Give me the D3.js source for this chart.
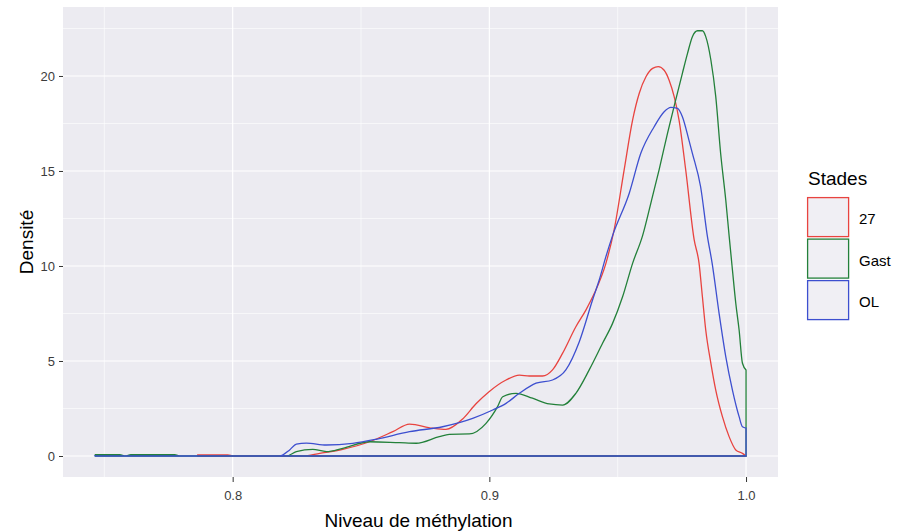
<!DOCTYPE html>
<html>
<head>
<meta charset="utf-8">
<script src="https://cdn.jsdelivr.net/npm/d3@7"></script>
<style>
  body { margin: 0; background: #fff; }
  text { font-family: "Liberation Sans", Arial, sans-serif; }
</style>
</head>
<body>
<svg width="897" height="531"></svg>
<script>
// stades et couleurs
var stades = ["27", "Gast", "OL"];
var couleurs = ["#E8433F", "#23803A", "#3D4FCF"];

// densites (niveau de methylation, densite)
var x27 = [0.7864, 0.7981, 0.8003, 0.8274, 0.8339, 0.8429, 0.8533, 0.8624, 0.8689, 0.8779, 0.8831, 0.8896, 0.8948, 0.9000, 0.9065, 0.9117, 0.9156, 0.9207, 0.9246, 0.9285, 0.9337, 0.9376, 0.9409, 0.9454, 0.9486, 0.9525, 0.9558, 0.9584, 0.9610, 0.9636, 0.9658, 0.9681, 0.9700, 0.9720, 0.9739, 0.9765, 0.9798, 0.9817, 0.9830, 0.9843, 0.9863, 0.9882, 0.9908, 0.9934, 0.9960, 0.9986, 1.0];
var y27 = [0.06, 0.06, 0, 0, 0.14, 0.35, 0.75, 1.28, 1.68, 1.46, 1.40, 1.95, 2.75, 3.40, 4.00, 4.26, 4.21, 4.21, 4.53, 5.40, 6.80, 7.68, 8.56, 10.14, 11.90, 15.05, 17.68, 19.09, 19.96, 20.40, 20.49, 20.30, 19.79, 18.91, 17.68, 15.05, 11.37, 10.14, 8.38, 6.63, 4.88, 3.47, 2.07, 1.02, 0.32, 0.14, 0];

var xGast = [0.7465, 0.7560, 0.7582, 0.7603, 0.7774, 0.7796, 0.8209, 0.8248, 0.8312, 0.8365, 0.8429, 0.8533, 0.8650, 0.8715, 0.8805, 0.8844, 0.8922, 0.8987, 0.9032, 0.9052, 0.9104, 0.9168, 0.9233, 0.9285, 0.9337, 0.9389, 0.9441, 0.9480, 0.9519, 0.9558, 0.9597, 0.9629, 0.9661, 0.9694, 0.9726, 0.9752, 0.9772, 0.9791, 0.9811, 0.9830, 0.9843, 0.9863, 0.9882, 0.9901, 0.9921, 0.9934, 0.9947, 0.9960, 0.9973, 0.9986, 1.0];
var yGast = [0.07, 0.07, 0, 0.07, 0.07, 0, 0, 0.23, 0.35, 0.23, 0.40, 0.75, 0.70, 0.67, 1.02, 1.14, 1.16, 1.72, 2.60, 3.12, 3.30, 3.04, 2.74, 2.68, 3.30, 4.53, 5.93, 6.98, 8.38, 10.14, 11.60, 13.30, 15.05, 16.98, 18.74, 20.14, 21.19, 22.07, 22.38, 22.38, 22.07, 20.84, 18.91, 15.93, 13.47, 11.60, 9.79, 8.04, 6.63, 4.88, 4.53];

var xOL = [0.7465, 0.8183, 0.8222, 0.8248, 0.8287, 0.8365, 0.8468, 0.8559, 0.8689, 0.8818, 0.8935, 0.9013, 0.9065, 0.9117, 0.9182, 0.9246, 0.9298, 0.9350, 0.9402, 0.9428, 0.9454, 0.9480, 0.9545, 0.9590, 0.9642, 0.9681, 0.9707, 0.9733, 0.9752, 0.9778, 0.9791, 0.9823, 0.9849, 0.9868, 0.9895, 0.9921, 0.9947, 0.9973, 0.9986, 1.0];
var yOL = [0, 0, 0.32, 0.63, 0.68, 0.58, 0.67, 0.88, 1.28, 1.54, 1.98, 2.42, 2.77, 3.30, 3.83, 4.00, 4.53, 6.00, 8.21, 9.26, 10.49, 11.60, 13.83, 15.93, 17.33, 18.12, 18.35, 18.30, 17.86, 16.60, 15.93, 14.17, 11.60, 10.14, 7.51, 5.23, 3.47, 2.07, 1.54, 1.47];

var xTicks = [0.8, 0.9, 1.0];
var xMinor = [0.75, 0.85, 0.95];
var yTicks = [0, 5, 10, 15, 20];
var yMinor = [2.5, 7.5, 12.5, 17.5, 22.5];

var series = [
  { stade: stades[0], xs: x27, ys: y27 },
  { stade: stades[1], xs: xGast, ys: yGast },
  { stade: stades[2], xs: xOL, ys: yOL }
];

var svg = d3.select("svg"),
    panel = { left: 63, right: 778, top: 7, bottom: 477 };

var x = d3.scaleLinear().domain([0.7339, 1.01245]).range([panel.left, panel.right]);
var y = d3.scaleLinear().domain([-1.105, 23.63]).range([panel.bottom, panel.top]);
var color = d3.scaleOrdinal(stades, couleurs);

// fond du panneau
svg.append("rect")
    .attr("x", panel.left).attr("y", panel.top)
    .attr("width", panel.right - panel.left).attr("height", panel.bottom - panel.top)
    .attr("fill", "#ECEBF1");

var grid = svg.append("g").attr("stroke", "#fff");
grid.selectAll(".ymin").data(yMinor).enter().append("line")
    .attr("x1", panel.left).attr("x2", panel.right)
    .attr("y1", y).attr("y2", y).attr("stroke-width", 0.6);
grid.selectAll(".xmin").data(xMinor).enter().append("line")
    .attr("y1", panel.top).attr("y2", panel.bottom)
    .attr("x1", x).attr("x2", x).attr("stroke-width", 0.6);
grid.selectAll(".ymaj").data(yTicks).enter().append("line")
    .attr("x1", panel.left).attr("x2", panel.right)
    .attr("y1", y).attr("y2", y).attr("stroke-width", 1.2);
grid.selectAll(".xmaj").data(xTicks).enter().append("line")
    .attr("y1", panel.top).attr("y2", panel.bottom)
    .attr("x1", x).attr("x2", x).attr("stroke-width", 1.2);

// courbes de densite (polygone ferme comme geom_density)
var line = d3.line()
    .x(function(d) { return x(d[0]); })
    .y(function(d) { return y(d[1]); })
    .curve(d3.curveMonotoneX);

svg.append("g").selectAll("path")
    .data(series)
  .enter().append("path")
    .attr("fill", "none")
    .attr("stroke", function(d) { return color(d.stade); })
    .attr("stroke-width", 1.3)
    .attr("d", function(d) {
      var pts = d.xs.map(function(v, i) { return [v, d.ys[i]]; });
      var x0 = d3.min(d.xs), x1 = d3.max(d.xs);
      return line(pts) + "L" + x(x1) + "," + y(0) + "L" + x(x0) + "," + y(0) + "Z";
    });

// axes
var xAxis = svg.append("g")
    .attr("transform", "translate(0," + panel.bottom + ")")
    .call(d3.axisBottom(x).tickValues(xTicks).tickFormat(d3.format(".1f")).tickSize(5).tickPadding(9));
var yAxis = svg.append("g")
    .attr("transform", "translate(" + panel.left + ",0)")
    .call(d3.axisLeft(y).tickValues(yTicks).tickSize(4).tickPadding(4));

[xAxis, yAxis].forEach(function(a) {
  a.select(".domain").remove();
  a.selectAll("line").attr("stroke", "#333");
  a.selectAll("text").attr("fill", "#3C3C3C").style("font-size", "13px")
    .style("font-family", "Liberation Sans, Arial, sans-serif");
});

svg.append("text")
    .attr("x", (panel.left + panel.right) / 2 - 2).attr("y", 527)
    .attr("text-anchor", "middle")
    .style("font-size", "19px")
    .text("Niveau de méthylation");

svg.append("text")
    .attr("transform", "translate(33," + (panel.top + panel.bottom) / 2 + ") rotate(-90)")
    .attr("text-anchor", "middle")
    .style("font-size", "19px")
    .text("Densité");

// legende
var legend = svg.append("g").attr("transform", "translate(807,0)");
legend.append("text")
    .attr("x", 1).attr("y", 185)
    .style("font-size", "19px")
    .text("Stades");

var key = legend.selectAll(".key")
    .data(stades)
  .enter().append("g")
    .attr("transform", function(d, i) { return "translate(0," + (197 + i * 41.5) + ")"; });

key.append("rect")
    .attr("x", 0.6).attr("y", 0.6)
    .attr("width", 41).attr("height", 39)
    .attr("fill", "#F0EFF4")
    .attr("stroke", function(d) { return color(d); })
    .attr("stroke-width", 1.3);

key.append("text")
    .attr("x", 52).attr("y", 22)
    .attr("dy", "0.35em")
    .style("font-size", "15px")
    .text(function(d) { return d; });
</script>
</body>
</html>
